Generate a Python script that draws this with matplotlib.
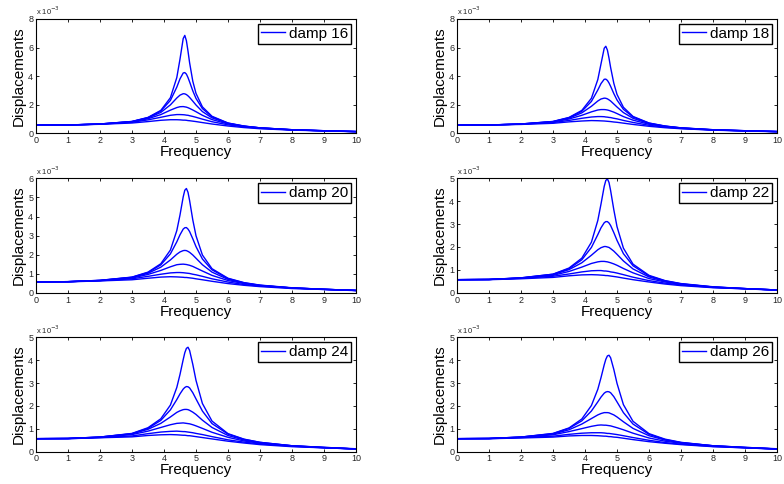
import matplotlib
matplotlib.use("Agg")
import matplotlib.pyplot as plt

plt.rcParams["font.family"] = ["Liberation Sans", "DejaVu Sans"]

# Frequency grid (shared by all panels)
FREQ = [0, 1, 2, 3, 3.5, 3.9, 4.2, 4.4, 4.5, 4.6, 4.65, 4.7, 4.75, 4.8,
        4.9, 5.0, 5.2, 5.5, 6.0, 6.5, 7, 8, 9, 10]

DAMP_LABELS = ["damp 16", "damp 18", "damp 20", "damp 22", "damp 24", "damp 26"]
Y_MAX = [8, 8, 6, 5, 5, 5]

# Displacements, units of 1e-3, one row per curve (light -> heavy damping)
DISP_16 = [
    [.57, .58, .65, .83, 1.11, 1.60, 2.49, 3.90, 5.19, 6.63, 6.85, 6.48, 5.75, 4.94, 3.64, 2.79, 1.85, 1.19, .72, .51, .38, .25, .18, .12],
    [.57, .58, .65, .82, 1.10, 1.56, 2.30, 3.23, 3.81, 4.22, 4.25, 4.14, 3.90, 3.60, 2.97, 2.44, 1.73, 1.15, .71, .50, .38, .25, .18, .12],
    [.57, .58, .65, .82, 1.07, 1.46, 1.99, 2.47, 2.67, 2.77, 2.76, 2.71, 2.62, 2.51, 2.25, 1.98, 1.52, 1.08, .69, .49, .38, .25, .18, .12],
    [.57, .58, .64, .80, 1.02, 1.31, 1.62, 1.80, 1.86, 1.87, 1.85, 1.83, 1.79, 1.74, 1.63, 1.51, 1.26, .96, .65, .48, .37, .24, .17, .12],
    [.57, .58, .64, .77, .94, 1.12, 1.26, 1.31, 1.31, 1.30, 1.29, 1.27, 1.26, 1.23, 1.18, 1.12, .99, .81, .59, .45, .35, .24, .17, .12],
    [.57, .58, .63, .72, .82, .91, .95, .95, .94, .92, .92, .91, .89, .88, .85, .82, .75, .65, .51, .40, .32, .22, .17, .11],
]
DISP_18 = [
    [.57, .58, .65, .83, 1.11, 1.60, 2.45, 3.76, 4.86, 5.95, 6.09, 5.82, 5.26, 4.61, 3.50, 2.72, 1.82, 1.18, .72, .51, .38, .25, .18, .12],
    [.57, .58, .65, .82, 1.09, 1.54, 2.23, 3.03, 3.48, 3.78, 3.79, 3.70, 3.52, 3.29, 2.78, 2.33, 1.68, 1.14, .71, .50, .38, .25, .18, .12],
    [.57, .58, .65, .81, 1.06, 1.43, 1.89, 2.26, 2.40, 2.46, 2.45, 2.41, 2.34, 2.26, 2.05, 1.84, 1.45, 1.05, .68, .49, .37, .24, .18, .12],
    [.57, .58, .64, .79, 1.00, 1.26, 1.50, 1.63, 1.66, 1.66, 1.65, 1.63, 1.60, 1.56, 1.48, 1.38, 1.17, .92, .63, .47, .36, .24, .17, .12],
    [.57, .58, .64, .75, .90, 1.05, 1.14, 1.17, 1.17, 1.16, 1.14, 1.13, 1.11, 1.10, 1.05, 1.01, .90, .76, .56, .43, .34, .23, .17, .12],
    [.57, .58, .62, .70, .80, .86, .89, .88, .87, .86, .85, .84, .83, .82, .79, .77, .71, .62, .49, .39, .32, .22, .16, .11],
]
DISP_20 = [
    [.57, .58, .65, .82, 1.08, 1.52, 2.24, 3.26, 4.08, 5.03, 5.38, 5.47, 5.27, 4.84, 3.82, 2.99, 1.98, 1.26, .76, .53, .40, .26, .18, .12],
    [.57, .58, .65, .81, 1.06, 1.46, 2.04, 2.67, 3.04, 3.34, 3.41, 3.42, 3.34, 3.21, 2.83, 2.42, 1.77, 1.20, .74, .52, .39, .25, .18, .12],
    [.57, .58, .64, .80, 1.02, 1.34, 1.72, 2.02, 2.14, 2.21, 2.22, 2.21, 2.17, 2.12, 1.98, 1.81, 1.47, 1.08, .70, .50, .38, .25, .18, .12],
    [.57, .58, .64, .77, .96, 1.17, 1.36, 1.47, 1.49, 1.50, 1.49, 1.48, 1.46, 1.44, 1.38, 1.30, 1.14, .91, .64, .48, .37, .25, .18, .12],
    [.57, .58, .63, .73, .86, .97, 1.04, 1.06, 1.06, 1.05, 1.04, 1.03, 1.02, 1.01, .97, .94, .86, .73, .56, .43, .35, .24, .17, .12],
    [.57, .57, .62, .68, .76, .82, .84, .83, .82, .81, .80, .80, .79, .78, .76, .73, .68, .60, .48, .39, .32, .22, .17, .11],
]
DISP_22 = [
    [.57, .58, .65, .81, 1.08, 1.51, 2.21, 3.16, 3.88, 4.65, 4.91, 4.98, 4.82, 4.47, 3.63, 2.89, 1.95, 1.25, .76, .53, .40, .26, .18, .12],
    [.57, .58, .65, .81, 1.05, 1.44, 1.98, 2.54, 2.84, 3.06, 3.11, 3.11, 3.05, 2.94, 2.63, 2.29, 1.71, 1.18, .73, .52, .39, .25, .18, .12],
    [.57, .58, .64, .79, 1.01, 1.31, 1.64, 1.88, 1.97, 2.02, 2.02, 2.00, 1.98, 1.93, 1.82, 1.68, 1.39, 1.04, .69, .50, .38, .25, .18, .12],
    [.57, .58, .64, .76, .93, 1.12, 1.28, 1.35, 1.37, 1.37, 1.36, 1.35, 1.33, 1.31, 1.26, 1.20, 1.06, .87, .62, .47, .36, .24, .18, .12],
    [.57, .58, .63, .72, .82, .91, .96, .97, .97, .95, .95, .94, .93, .91, .89, .86, .79, .68, .53, .42, .34, .23, .17, .12],
    [.57, .57, .61, .67, .74, .78, .79, .78, .77, .76, .75, .75, .74, .73, .71, .69, .64, .57, .47, .38, .31, .22, .17, .11],
]
DISP_24 = [
    [.57, .58, .64, .80, 1.05, 1.44, 2.04, 2.81, 3.38, 4.03, 4.33, 4.52, 4.57, 4.43, 3.82, 3.12, 2.11, 1.34, .79, .55, .41, .26, .19, .13],
    [.57, .58, .64, .79, 1.02, 1.37, 1.83, 2.28, 2.53, 2.74, 2.81, 2.85, 2.84, 2.79, 2.58, 2.31, 1.78, 1.23, .77, .54, .41, .26, .19, .12],
    [.57, .58, .64, .78, .98, 1.24, 1.52, 1.72, 1.79, 1.84, 1.85, 1.85, 1.84, 1.81, 1.73, 1.63, 1.38, 1.06, .71, .51, .39, .26, .18, .12],
    [.57, .58, .63, .75, .90, 1.06, 1.18, 1.24, 1.25, 1.26, 1.25, 1.24, 1.23, 1.22, 1.18, 1.13, 1.02, .85, .63, .47, .37, .25, .18, .12],
    [.57, .57, .62, .69, .79, .86, .89, .90, .89, .88, .88, .87, .86, .85, .83, .80, .75, .66, .52, .42, .34, .24, .17, .12],
    [.57, .57, .61, .65, .71, .74, .75, .74, .73, .72, .72, .71, .70, .70, .68, .66, .62, .56, .46, .38, .31, .22, .17, .12],
]
DISP_26 = [
    [.57, .58, .64, .80, 1.04, 1.43, 2.02, 2.73, 3.24, 3.80, 4.04, 4.19, 4.22, 4.11, 3.60, 2.99, 2.06, 1.33, .79, .55, .41, .26, .19, .13],
    [.57, .58, .64, .79, 1.02, 1.35, 1.78, 2.18, 2.39, 2.56, 2.61, 2.63, 2.62, 2.58, 2.41, 2.18, 1.71, 1.21, .76, .53, .40, .26, .19, .12],
    [.57, .58, .64, .77, .96, 1.21, 1.45, 1.61, 1.67, 1.71, 1.71, 1.71, 1.70, 1.67, 1.61, 1.52, 1.31, 1.02, .70, .51, .39, .26, .18, .12],
    [.57, .58, .63, .74, .88, 1.01, 1.11, 1.16, 1.17, 1.16, 1.16, 1.15, 1.14, 1.13, 1.09, 1.05, .96, .81, .60, .46, .37, .25, .18, .12],
    [.57, .57, .62, .68, .76, .81, .83, .83, .83, .82, .81, .80, .80, .79, .77, .75, .70, .62, .50, .40, .33, .23, .17, .12],
    [.57, .57, .60, .64, .69, .71, .71, .70, .69, .68, .68, .67, .66, .66, .64, .63, .59, .53, .44, .37, .31, .22, .17, .11],
]

PANELS = [DISP_16, DISP_18, DISP_20, DISP_22, DISP_24, DISP_26]

fig = plt.figure(figsize=(7.84, 4.84), dpi=100)

col_left = [0.0459, 0.5829]
row_bottom = [0.7246, 0.3952, 0.0667]
ax_w, ax_h = 0.4082, 0.2362

for i, curves in enumerate(PANELS):
    row, col = divmod(i, 2)
    ax = fig.add_axes([col_left[col], row_bottom[row], ax_w, ax_h])
    for k, ys in enumerate(curves):
        ax.plot(FREQ, ys, color="#0000ff", lw=1.0,
                label=DAMP_LABELS[i] if k == 0 else None)
    ax.set_xlim(0, 10)
    ax.set_ylim(0, Y_MAX[i])
    ax.set_xticks(range(0, 11))
    ax.set_yticks(range(0, Y_MAX[i] + 1, 2 if Y_MAX[i] == 8 else 1))
    ax.tick_params(direction="in", top=True, right=True, length=2.5,
                   width=0.6, labelsize=6.5, pad=2, labelcolor="#262626")
    for s in ax.spines.values():
        s.set_linewidth(0.8)
    ax.set_xlabel("Frequency", fontsize=11, labelpad=0)
    ax.set_ylabel("Displacements", fontsize=11, labelpad=2)
    ax.text(0.0, 1.015, r"x 10$^{-3}$", transform=ax.transAxes,
            fontsize=5.5, va="bottom", ha="left", color="#262626")
    leg = ax.legend(loc="upper right", fontsize=11, fancybox=False,
                    framealpha=1, edgecolor="black", handlelength=1.6,
                    handletextpad=0.25, borderpad=0.2, borderaxespad=0.3)
    leg.get_frame().set_linewidth(1.0)

fig.savefig("out.png", dpi=100)
